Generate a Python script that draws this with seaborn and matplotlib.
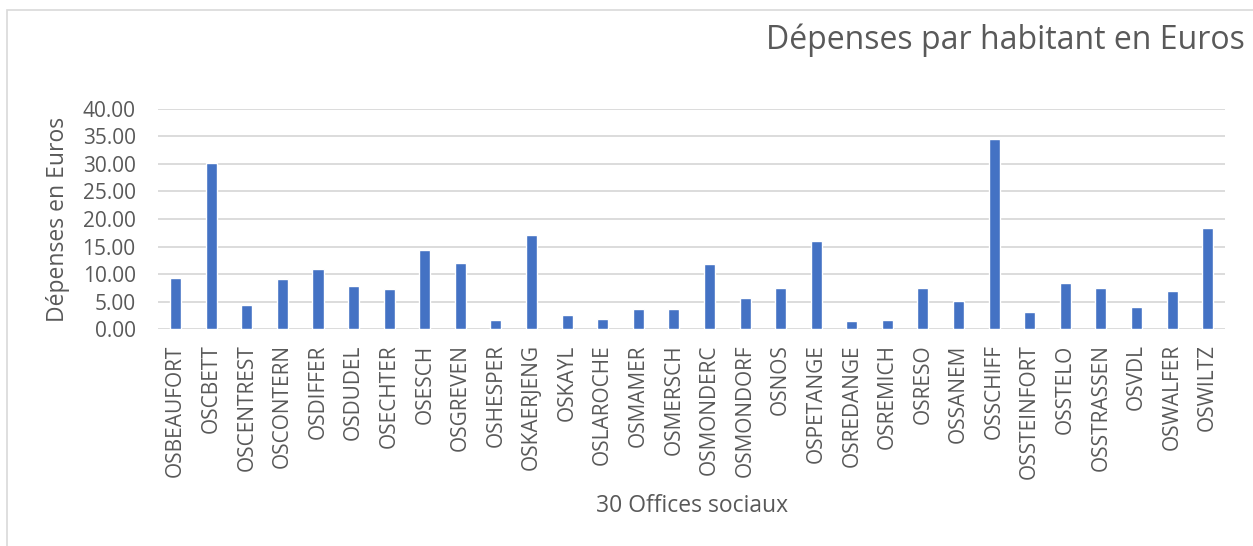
import numpy as np
import pandas as pd
import matplotlib
matplotlib.use('Agg')
import matplotlib.pyplot as plt
from matplotlib.patches import Rectangle
from matplotlib.ticker import FormatStrFormatter
import seaborn as sns

# offices sociaux and their spending per inhabitant
offices = ['OSBEAUFORT', 'OSCBETT', 'OSCENTREST', 'OSCONTERN', 'OSDIFFER', 'OSDUDEL',
           'OSECHTER', 'OSESCH', 'OSGREVEN', 'OSHESPER', 'OSKAERJENG', 'OSKAYL',
           'OSLAROCHE', 'OSMAMER', 'OSMERSCH', 'OSMONDERC', 'OSMONDORF', 'OSNOS',
           'OSPETANGE', 'OSREDANGE', 'OSREMICH', 'OSRESO', 'OSSANEM', 'OSSCHIFF',
           'OSSTEINFORT', 'OSSTELO', 'OSSTRASSEN', 'OSVDL', 'OSWALFER', 'OSWILTZ']
depenses = [9.27, 30.18, 4.30, 9.15, 10.97, 7.88,
            7.27, 14.36, 12.06, 1.58, 17.09, 2.48,
            1.88, 3.64, 3.58, 11.88, 5.64, 7.45,
            16.06, 1.39, 1.58, 7.45, 5.15, 34.60,
            3.09, 8.42, 7.45, 4.00, 6.97, 18.36]
yticks = [0, 5, 10, 15, 20, 25, 30, 35, 40]

sns.set_style('white')
plt.rcParams['font.family'] = ['Open Sans', 'DejaVu Sans']
grey = '#595959'

df = pd.DataFrame({'office': offices, 'depenses': depenses})

fig = plt.figure(figsize=(12.53, 5.46), dpi=100)
ax = fig.add_axes([0.126, 0.3974, 0.852, 0.403])

sns.barplot(data=df, x='office', y='depenses', color='#4472C4', saturation=1,
            width=0.31, ax=ax)

ax.set_ylim(0, 40)
ax.set_xlim(-0.5, len(offices) - 0.5)
ax.set_yticks(yticks)
ax.yaxis.set_major_formatter(FormatStrFormatter('%.2f'))
ax.grid(axis='y', color='#D9D9D9', linewidth=1.3)
ax.set_axisbelow(True)
for s in ax.spines.values():
    s.set_visible(False)
ax.tick_params(axis='both', length=0, colors=grey, labelsize=15)
ax.tick_params(axis='x', pad=11)
plt.setp(ax.get_xticklabels(), rotation=90)
ax.tick_params(axis='y', pad=16)

ax.set_xlabel('30 Offices sociaux', fontsize=16.5, color=grey, labelpad=11)
ax.set_ylabel('Dépenses en Euros', fontsize=16.5, color=grey, labelpad=9)

fig.text(0.9936, 0.927, 'Dépenses par habitant en Euros', ha='right', va='center',
         fontsize=23, color=grey)

# chart frame (only top and left edges visible in the crop)
fig.patches.append(Rectangle((7 / 1253, -0.1), 2, 1.1 - 10 / 546, transform=fig.transFigure,
                             fill=False, edgecolor='#D9D9D9', linewidth=1.2))

plt.savefig('out.png', dpi=100)
